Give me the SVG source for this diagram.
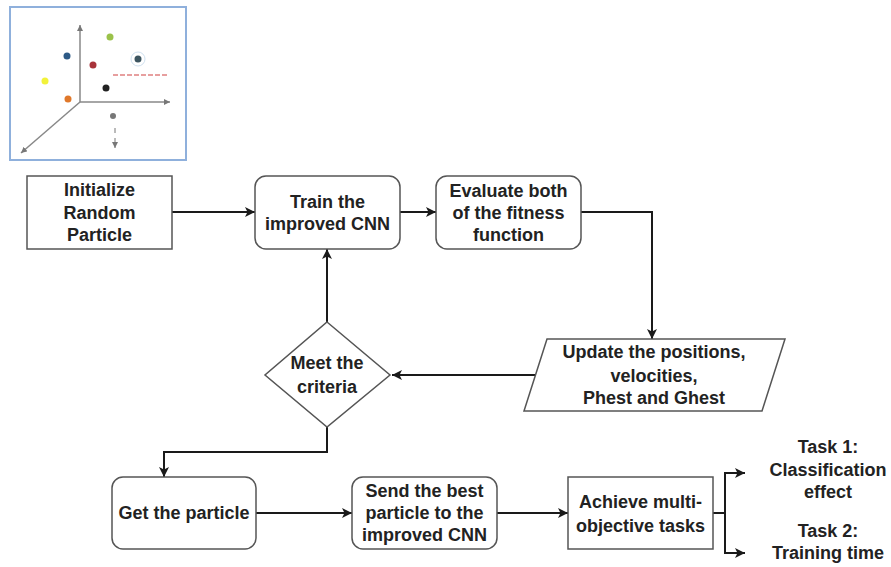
<svg xmlns="http://www.w3.org/2000/svg" width="891" height="567" viewBox="0 0 891 567">
<defs>
<marker id="ah" viewBox="0 0 10 10" refX="10" refY="5" markerWidth="10" markerHeight="10" markerUnits="userSpaceOnUse" orient="auto">
<path d="M0,0 L10,5 L0,10 L2.5,5 Z" fill="#1a1a1a"/>
</marker>
<marker id="sm" viewBox="0 0 10 10" refX="10" refY="5" markerWidth="6" markerHeight="6" markerUnits="userSpaceOnUse" orient="auto">
<path d="M0,0 L10,5 L0,10 Z" fill="#777"/>
</marker>
</defs>
<style>
.box{fill:#fff;stroke:#555;stroke-width:1.5}
.t{font-family:"Liberation Sans",Arial,sans-serif;font-size:18px;font-weight:bold;fill:#222;text-anchor:middle;dominant-baseline:central}
.c{fill:none;stroke:#1a1a1a;stroke-width:2;marker-end:url(#ah)}
.ax{stroke:#888;stroke-width:1.5;fill:none}
</style>
<rect width="891" height="567" fill="#fff"/>
<g id="inset">
<rect x="10" y="7" width="176" height="153" fill="#fff" stroke="#8fb0dc" stroke-width="2"/>
<line class="ax" x1="80" y1="102" x2="80" y2="25" marker-end="url(#sm)"/>
<line class="ax" x1="80" y1="102" x2="170" y2="102" marker-end="url(#sm)"/>
<line class="ax" x1="80" y1="102" x2="21" y2="153" marker-end="url(#sm)"/>
<circle cx="110" cy="37" r="3.5" fill="#9bc24a"/>
<circle cx="67" cy="56" r="3.5" fill="#2d5a86"/>
<circle cx="93" cy="65" r="3.5" fill="#a8333a"/>
<circle cx="138" cy="59" r="7" fill="none" stroke="#cfe0ef" stroke-width="1"/>
<circle cx="138" cy="59" r="3.5" fill="#3c5560"/>
<circle cx="45" cy="81" r="3.5" fill="#f2f23a"/>
<circle cx="106" cy="88" r="3.5" fill="#222"/>
<circle cx="68" cy="99" r="3.5" fill="#e0782a"/>
<circle cx="113" cy="116" r="3" fill="#777"/>
<line x1="115" y1="128" x2="115" y2="133" stroke="#777" stroke-width="1"/>
<line x1="115" y1="138" x2="115" y2="148" stroke="#777" stroke-width="1" marker-end="url(#sm)"/>
<line x1="113" y1="75" x2="168" y2="75" stroke="#e08080" stroke-width="1.5" stroke-dasharray="5,2"/>
</g>
<g id="connectors">
<line class="c" x1="172" y1="212" x2="255" y2="212"/>
<line class="c" x1="400" y1="212" x2="436" y2="212"/>
<polyline class="c" points="581,212 652,212 652,339"/>
<line class="c" x1="535" y1="375" x2="392" y2="375"/>
<line class="c" x1="327" y1="322" x2="327" y2="249"/>
<polyline class="c" points="327,427 327,452 164,452 164,477"/>
<line class="c" x1="256" y1="513" x2="352" y2="513"/>
<line class="c" x1="497" y1="513" x2="568" y2="513"/>
<polyline class="c" points="713,513 725,513 725,473 745,473"/>
<polyline class="c" points="725,513 725,553 745,553"/>
</g>
<g id="init">
<rect class="box" x="27" y="176" width="145" height="73"/>
<text class="t" x="99.5" y="190">Initialize</text>
<text class="t" x="99.5" y="213">Random</text>
<text class="t" x="99.5" y="235">Particle</text>
</g>
<g id="train">
<rect class="box" x="255" y="176" width="145" height="73" rx="11"/>
<text class="t" x="327.5" y="202">Train the</text>
<text class="t" x="327.5" y="224">improved CNN</text>
</g>
<g id="evaluate">
<rect class="box" x="436" y="176" width="145" height="73" rx="11"/>
<text class="t" x="508.5" y="191">Evaluate both</text>
<text class="t" x="508.5" y="213">of the fitness</text>
<text class="t" x="508.5" y="235">function</text>
</g>
<g id="update">
<polygon class="box" points="547,339 785,339 762,411 524,411"/>
<text class="t" x="654" y="352">Update the positions,</text>
<text class="t" x="654" y="376">velocities,</text>
<text class="t" x="654" y="398">Phest and Ghest</text>
</g>
<g id="meet">
<polygon class="box" points="327,322 390,375 327,427 265,375"/>
<text class="t" x="327" y="363">Meet the</text>
<text class="t" x="327" y="387">criteria</text>
</g>
<g id="get">
<rect class="box" x="112" y="477" width="144" height="72" rx="11"/>
<text class="t" x="184" y="513">Get the particle</text>
</g>
<g id="send">
<rect class="box" x="352" y="477" width="145" height="72" rx="11"/>
<text class="t" x="424.5" y="491">Send the best</text>
<text class="t" x="424.5" y="513">particle to the</text>
<text class="t" x="424.5" y="535">improved CNN</text>
</g>
<g id="achieve">
<rect class="box" x="568" y="477" width="145" height="72"/>
<text class="t" x="640.5" y="502">Achieve multi-</text>
<text class="t" x="640.5" y="526">objective tasks</text>
</g>
<g id="task1">
<text class="t" x="828" y="447">Task 1:</text>
<text class="t" x="828" y="470">Classification</text>
<text class="t" x="828" y="492">effect</text>
</g>
<g id="task2">
<text class="t" x="828" y="531">Task 2:</text>
<text class="t" x="828" y="553">Training time</text>
</g>
</svg>
